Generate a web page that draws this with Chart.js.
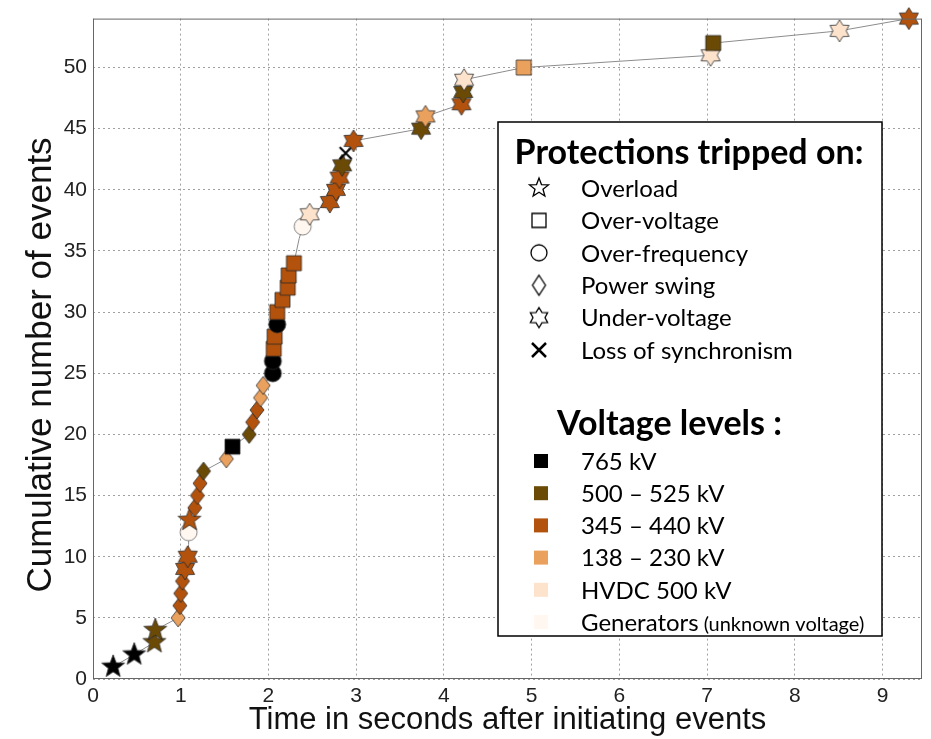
<!DOCTYPE html>
<html lang="en">
<head>
    <meta charset="UTF-8">
    <title>Cumulative events</title>
    <script src="https://cdn.jsdelivr.net/npm/chart.js"></script>
    <style>
        body { margin: 0; background: #fff; }
    </style>
</head>
<body>
    <div style="width:931px;height:739px">
        <canvas id="eventsChart" width="931" height="739"></canvas>
    </div>

    <script>
        // Time of each event (s after initiating events)
        var times = [0.23, 0.47, 0.70, 0.71, 0.97, 0.99, 1.00, 1.02, 1.05, 1.08,
                     1.09, 1.09, 1.10, 1.16, 1.19, 1.22, 1.26, 1.52, 1.59, 1.78,
                     1.82, 1.87, 1.91, 1.94, 2.05, 2.05, 2.06, 2.07, 2.10, 2.10,
                     2.16, 2.22, 2.23, 2.29, 2.32, 2.35, 2.39, 2.47, 2.70, 2.77,
                     2.81, 2.84, 2.88, 2.97, 3.74, 3.79, 4.20, 4.22, 4.23, 4.91,
                     7.04, 7.07, 8.51, 9.30];
        // Cumulative number of events
        var counts = [1, 2, 3, 4, 5, 6, 7, 8, 9, 10,
                      11, 12, 13, 14, 15, 16, 17, 18, 19, 20,
                      21, 22, 23, 24, 25, 26, 27, 28, 29, 30,
                      31, 32, 33, 34, 35, 36, 37, 38, 39, 40,
                      41, 42, 43, 44, 45, 46, 47, 48, 49, 50,
                      51, 52, 53, 54];
        // Protection tripped (OL overload, OV over-voltage, OF over-frequency,
        // PS power swing, UV under-voltage, LS loss of synchronism, '' not visible)
        var protections = ['OL', 'OL', 'OL', 'OL', 'PS', 'PS', 'PS', 'PS', 'UV', 'UV',
                           '', 'OF', 'OL', 'PS', 'PS', 'PS', 'PS', 'PS', 'OV', 'PS',
                           'PS', 'PS', 'PS', 'PS', 'OF', 'OF', 'OV', 'OV', 'OF', 'OV',
                           'OV', 'OV', 'OV', 'OV', '', '', 'OF', 'UV', 'UV', 'UV',
                           'UV', 'UV', 'LS', 'UV', 'UV', 'UV', 'UV', 'UV', 'UV', 'OV',
                           'UV', 'OV', 'UV', 'UV'];
        // Voltage level of the tripped element
        var levels = ['765', '765', '500', '500', '138', '345', '345', '345', '345', '345',
                      '345', 'GEN', '345', '345', '345', '345', '500', '138', '765', '500',
                      '345', '345', '138', '138', '765', '765', '345', '345', '765', '345',
                      '345', '345', '345', '345', '345', '345', 'GEN', 'HVDC', '345', '345',
                      '345', '500', '765', '345', '500', '138', '345', '500', 'HVDC', '138',
                      'HVDC', '500', 'HVDC', '345'];

        var xTicks = [0, 1, 2, 3, 4, 5, 6, 7, 8, 9];
        var yTicks = [0, 5, 10, 15, 20, 25, 30, 35, 40, 45, 50];

        var protectionKeys = ['OL', 'OV', 'OF', 'PS', 'UV', 'LS'];
        var protectionLabels = ['Overload', 'Over-voltage', 'Over-frequency', 'Power swing', 'Under-voltage', 'Loss of synchronism'];
        var levelKeys = ['765', '500', '345', '138', 'HVDC', 'GEN'];
        var levelLabels = ['765 kV', '500 \u2013 525 kV', '345 \u2013 440 kV', '138 \u2013 230 kV', 'HVDC 500 kV', 'Generators'];

        var levelColors = {
            '765': '#000000',
            '500': '#6b4a06',
            '345': '#b3520c',
            '138': '#eba15e',
            'HVDC': '#fde3cc',
            'GEN': '#fff7f0'
        };
        // shape and size of each protection marker
        var markerShapes = {
            'OL': ['star5', 24, 24],
            'OV': ['square', 15, 15],
            'OF': ['circle', 17, 17],
            'PS': ['diamond', 14, 18],
            'UV': ['star6', 22, 22],
            'LS': ['cross', 12, 12]
        };

        // draws a marker on a small canvas so Chart.js can use it as pointStyle
        function markerCanvas(shape, fill, stroke, lw, w, h) {
            var pad = Math.ceil(lw) + 1;
            var c = document.createElement('canvas');
            c.width = w + 2 * pad;
            c.height = h + 2 * pad;
            var g = c.getContext('2d');
            g.translate(c.width / 2, c.height / 2);
            g.beginPath();
            var R = w / 2;
            if (shape === 'star5' || shape === 'star6') {
                var n = shape === 'star5' ? 5 : 6;
                var r = R * (n === 5 ? 0.42 : 0.6);
                for (var i = 0; i < 2 * n; i++) {
                    var a = -Math.PI / 2 + i * Math.PI / n;
                    var rr = i % 2 ? r : R;
                    g.lineTo(rr * Math.cos(a), rr * Math.sin(a));
                }
                g.closePath();
            } else if (shape === 'square') {
                g.rect(-R, -h / 2, w, h);
            } else if (shape === 'circle') {
                g.arc(0, 0, R, 0, 2 * Math.PI);
            } else if (shape === 'diamond') {
                g.moveTo(0, -h / 2); g.lineTo(R, 0); g.lineTo(0, h / 2); g.lineTo(-R, 0);
                g.closePath();
            } else if (shape === 'cross') {
                g.moveTo(-R, -R); g.lineTo(R, R);
                g.moveTo(R, -R); g.lineTo(-R, R);
                g.strokeStyle = stroke;
                g.lineWidth = lw;
                g.stroke();
                return c;
            }
            g.fillStyle = fill;
            g.fill();
            g.strokeStyle = stroke;
            g.lineWidth = lw;
            g.stroke();
            return c;
        }

        var points = times.map(function (t, i) { return { x: t, y: counts[i] }; });
        var pointStyles = protections.map(function (p, i) {
            if (!p) return 'circle';
            var m = markerShapes[p];
            var stroke = p === 'LS' ? '#000' : (levels[i] === 'GEN' ? '#666' : '#2a2a2a');
            return markerCanvas(m[0], levelColors[levels[i]], stroke, p === 'LS' ? 2 : 0.8, m[1], m[2]);
        });
        var pointRadii = protections.map(function (p) { return p ? 5 : 0; });

        // frame, y title and legend box drawn on top of the plot
        var legendBox = {
            id: 'legendBox',
            afterDraw: function (chart) {
                var ctx = chart.ctx;
                var a = chart.chartArea;
                ctx.save();
                // plot frame
                ctx.strokeStyle = '#666';
                ctx.lineWidth = 1;
                ctx.strokeRect(a.left + 0.5, a.top + 0.5, a.right - a.left - 1, a.bottom - a.top - 1);

                // y axis title
                ctx.save();
                ctx.translate(41, 365);
                ctx.rotate(-Math.PI / 2);
                ctx.fillStyle = '#111';
                ctx.font = '35px "Liberation Sans"';
                ctx.textAlign = 'center';
                ctx.textBaseline = 'middle';
                ctx.fillText('Cumulative number of events', 0, 0);
                ctx.restore();

                ctx.fillStyle = '#fff';
                ctx.fillRect(498, 122, 384, 514);
                ctx.strokeStyle = '#000';
                ctx.lineWidth = 1.5;
                ctx.strokeRect(498, 122, 384, 514);

                ctx.fillStyle = '#000';
                ctx.textBaseline = 'middle';
                ctx.textAlign = 'center';
                ctx.font = 'bold 34px Lato';
                ctx.fillText('Protections tripped on:', 689, 153);

                ctx.textAlign = 'left';
                protectionKeys.forEach(function (k, i) {
                    var y = 188 + i * 32.4;
                    var m = markerShapes[k];
                    var w = k === 'PS' ? 13 : (k === 'OV' || k === 'LS' ? 14 : (k === 'OF' ? 16 : 20));
                    var h = k === 'PS' ? 20 : w;
                    var img = markerCanvas(m[0], '#fff', '#000', k === 'LS' ? 2.5 : 1.3, w, h);
                    ctx.drawImage(img, 539 - img.width / 2, y - img.height / 2);
                    ctx.fillStyle = '#000';
                    ctx.font = '24px Lato';
                    ctx.fillText(protectionLabels[i], 581, y + 1);
                });

                ctx.font = 'bold 34px Lato';
                ctx.fillText('Voltage levels :', 557, 424);

                levelKeys.forEach(function (k, i) {
                    var y = 461 + i * 32.2;
                    ctx.fillStyle = levelColors[k];
                    ctx.fillRect(534, y - 7, 14, 14);
                    ctx.fillStyle = '#000';
                    ctx.font = '24px Lato';
                    ctx.fillText(levelLabels[i], 581, y + 1);
                    if (k === 'GEN') {
                        var w = ctx.measureText(levelLabels[i]).width;
                        ctx.font = '20px Lato';
                        ctx.fillText('(unknown voltage)', 581 + w + 5, y + 3);
                    }
                });
                ctx.restore();
            }
        };

        var ctx = document.getElementById('eventsChart').getContext('2d');
        var eventsChart = new Chart(ctx, {
            type: 'scatter',
            data: {
                datasets: [{
                    data: points,
                    showLine: true,
                    borderColor: '#8c8c8c',
                    borderWidth: 1,
                    pointStyle: pointStyles,
                    pointRadius: pointRadii,
                    clip: false
                }]
            },
            options: {
                responsive: false,
                animation: false,
                layout: { padding: { top: 17, right: 9, left: 0, bottom: 0 } },
                plugins: {
                    legend: { display: false },
                    tooltip: { enabled: false }
                },
                scales: {
                    x: {
                        type: 'linear',
                        min: 0,
                        max: 9.45,
                        afterBuildTicks: function (s) { s.ticks = xTicks.map(function (v) { return { value: v }; }); },
                        afterFit: function (s) { s.height = 60; },
                        grid: { color: '#a0a0a0', drawTicks: false },
                        border: { display: false, dash: [2, 3] },
                        ticks: { color: '#222', padding: 5, font: { family: 'Liberation Sans', size: 21 } },
                        title: {
                            display: true,
                            text: 'Time in seconds after initiating events',
                            color: '#111',
                            padding: 0,
                            font: { family: 'Liberation Sans', size: 31 }
                        }
                    },
                    y: {
                        min: 0,
                        max: 54,
                        afterBuildTicks: function (s) { s.ticks = yTicks.map(function (v) { return { value: v }; }); },
                        afterFit: function (s) { s.width = 93; },
                        grid: { color: '#a0a0a0', drawTicks: false },
                        border: { display: false, dash: [2, 3] },
                        ticks: { color: '#222', padding: 6, font: { family: 'Liberation Sans', size: 21 } },
                        title: { display: false }
                    }
                }
            },
            plugins: [legendBox]
        });
    </script>
</body>
</html>
